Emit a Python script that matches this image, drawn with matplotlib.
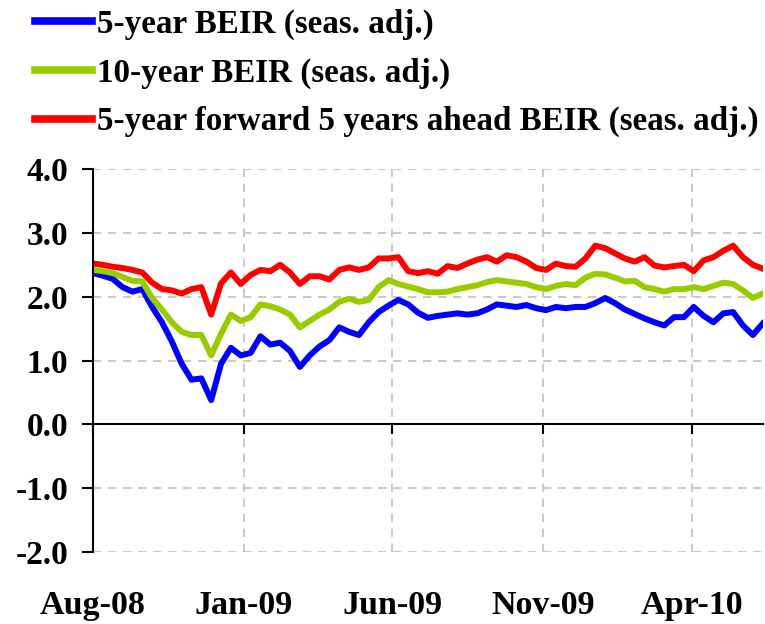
import matplotlib
matplotlib.use("Agg")
import matplotlib.pyplot as plt
import pandas as pd

# 10-day sampled readings, Aug 2008 - Jun 2010
dates = pd.date_range("2008-08-01", periods=69, freq="10D")

beir_5y = [2.37, 2.33, 2.28, 2.15, 2.08, 2.12, 1.84, 1.60, 1.30, 0.95,
           0.70, 0.72, 0.38, 0.95, 1.20, 1.08, 1.12, 1.38, 1.25, 1.28,
           1.15, 0.90, 1.08, 1.22, 1.32, 1.52, 1.45, 1.40, 1.60, 1.76,
           1.86, 1.95, 1.88, 1.75, 1.67, 1.70, 1.72, 1.74, 1.72, 1.74,
           1.80, 1.88, 1.86, 1.84, 1.87, 1.82, 1.79, 1.84, 1.82, 1.84,
           1.84, 1.90, 1.98, 1.90, 1.80, 1.73, 1.66, 1.60, 1.55, 1.68,
           1.68, 1.84, 1.70, 1.60, 1.74, 1.76, 1.55, 1.40, 1.58]

beir_10y = [2.42, 2.40, 2.37, 2.31, 2.25, 2.24, 1.98, 1.80, 1.60, 1.45,
            1.40, 1.40, 1.08, 1.42, 1.72, 1.62, 1.68, 1.88, 1.85, 1.80,
            1.72, 1.52, 1.62, 1.72, 1.80, 1.92, 1.97, 1.92, 1.95, 2.15,
            2.26, 2.20, 2.16, 2.12, 2.07, 2.07, 2.08, 2.12, 2.15, 2.18,
            2.23, 2.26, 2.24, 2.22, 2.20, 2.15, 2.12, 2.17, 2.20, 2.18,
            2.30, 2.36, 2.35, 2.30, 2.24, 2.25, 2.15, 2.12, 2.08, 2.12,
            2.12, 2.15, 2.12, 2.17, 2.22, 2.20, 2.10, 1.98, 2.05]

beir_5y5y = [2.52, 2.50, 2.47, 2.45, 2.42, 2.38, 2.22, 2.12, 2.10, 2.05,
             2.12, 2.15, 1.72, 2.21, 2.38, 2.20, 2.34, 2.42, 2.40, 2.50,
             2.38, 2.20, 2.32, 2.32, 2.27, 2.42, 2.46, 2.42, 2.46, 2.60,
             2.60, 2.62, 2.40, 2.37, 2.40, 2.36, 2.48, 2.45, 2.52, 2.58,
             2.62, 2.55, 2.65, 2.62, 2.55, 2.45, 2.42, 2.52, 2.48, 2.47,
             2.60, 2.80, 2.76, 2.68, 2.60, 2.55, 2.62, 2.49, 2.46, 2.48,
             2.50, 2.40, 2.57, 2.62, 2.72, 2.80, 2.62, 2.50, 2.44]

tick_dates = pd.to_datetime(["2008-08-01", "2009-01-01", "2009-06-01",
                             "2009-11-01", "2010-04-01"])
tick_labels = ["Aug-08", "Jan-09", "Jun-09", "Nov-09", "Apr-10"]
y_ticks = [4.0, 3.0, 2.0, 1.0, 0.0, -1.0, -2.0]

font = {"family": "Liberation Serif", "weight": "bold"}

fig = plt.figure(figsize=(7.65, 6.24), dpi=100)
ax = fig.add_axes([0.1216, 0.1154, 0.8754, 0.6136])

l1, = ax.plot(dates, beir_5y, color="#0000ff", lw=4.3)
l2, = ax.plot(dates, beir_10y, color="#99cc00", lw=4.3)
l3, = ax.plot(dates, beir_5y5y, color="#ff0000", lw=4.3)

ax.set_ylim(-2.0, 4.0)
ax.set_xlim(pd.Timestamp("2008-08-01"), pd.Timestamp("2010-06-12"))
ax.set_yticks(y_ticks)
ax.set_yticklabels([f"{v:.1f}" for v in y_ticks], fontdict=dict(font, size=24))
ax.set_xticks(tick_dates)
ax.tick_params(axis="x", labelbottom=False, direction="out", length=7, width=1.5)
ax.tick_params(axis="y", direction="out", length=8, width=1.5, pad=10)

for d, lab in zip(tick_dates, tick_labels):
    ax.text(d, -0.14, lab, transform=ax.get_xaxis_transform(),
            ha="center", va="center", fontdict=dict(font, size=24.5))

ax.grid(True, color="#c0c0c0", linestyle=(0, (5, 4)), lw=1.2)
ax.set_axisbelow(True)
ax.spines["top"].set_visible(False)
ax.spines["right"].set_visible(False)
ax.spines["bottom"].set_position(("data", 0))
ax.spines["left"].set_linewidth(1.5)
ax.spines["bottom"].set_linewidth(1.5)

leg = fig.legend([l1, l2, l3],
                 ["5-year BEIR (seas. adj.)", "10-year BEIR (seas. adj.)",
                  "5-year forward 5 years ahead BEIR (seas. adj.)"],
                 loc="upper left", bbox_to_anchor=(0.046, 0.986), frameon=False,
                 prop=dict(font, size=23.8), handlelength=1.72,
                 handletextpad=0.15, labelspacing=0.53, borderpad=0,
                 borderaxespad=0)
for h in leg.legend_handles:
    h.set_linewidth(5.5)

fig.savefig("out.png", dpi=100)
